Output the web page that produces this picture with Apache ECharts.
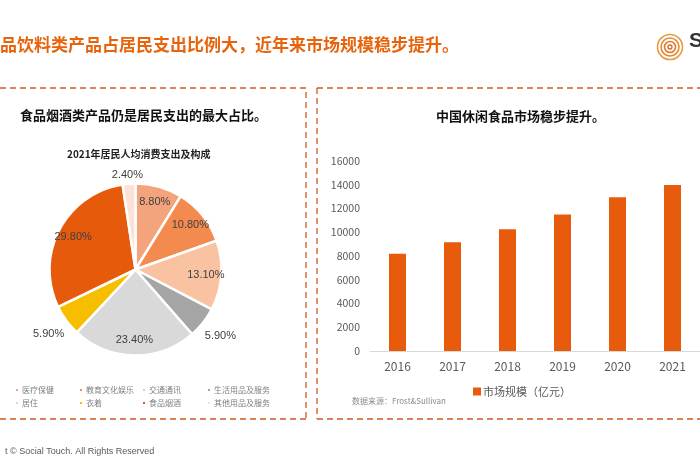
<!DOCTYPE html>
<html>
<head>
<meta charset="utf-8">
<script src="https://cdn.jsdelivr.net/npm/echarts@6/dist/echarts.min.js"></script>
<style>
html,body{margin:0;padding:0;background:#fff;}
#c{width:700px;height:470px;}
</style>
</head>
<body>
<div id="c"></div>
<script>
// ---- data ----
var pieNames = ['医疗保健','教育文化娱乐','交通通讯','生活用品及服务','居住','衣着','食品烟酒','其他用品及服务'];
var pieValues = [8.8, 10.8, 13.1, 5.9, 23.4, 5.9, 29.8, 2.4];
var outerLabelNames = ['生活用品及服务','衣着','其他用品及服务'];
var barYears = ['2016','2017','2018','2019','2020','2021'];
var barValues = [8200, 9150, 10250, 11500, 12950, 13980];
var barSeriesName = '市场规模（亿元）';
var mainTitle = '品饮料类产品占居民支出比例大，近年来市场规模稳步提升。';
var leftTitle = '食品烟酒类产品仍是居民支出的最大占比。';
var pieTitle = '2021年居民人均消费支出及构成';
var rightTitle = '中国休闲食品市场稳步提升。';
var sourceText = '数据来源：Frost&Sullivan';
var footerText = 't © Social Touch. All Rights Reserved';

var pieColors = ['#F4A47C','#F38A4E','#F9C2A0','#A5A5A5','#D9D9D9','#F7BE00','#E65A0C','#FBE2D4'];
var cjk = '"Noto Sans CJK SC","Noto Sans",sans-serif';
var arial = '"Liberation Sans",Arial,sans-serif';

var chart = echarts.init(document.getElementById('c'), null, {renderer:'canvas'});

var pieData = pieNames.map(function(n,i){ return {name:n, value:pieValues[i], itemStyle:{color:pieColors[i]}}; });
var innerLabelData = pieNames.map(function(n,i){
  return {name:n, value:pieValues[i], label:{show: outerLabelNames.indexOf(n) < 0}};
});
var outerLabelData = pieNames.map(function(n,i){
  var d = {name:n, value:pieValues[i], label:{show: outerLabelNames.indexOf(n) >= 0}};
  if (n === '其他用品及服务') d.label.offset = [0, 13];
  return d;
});
function pct(p){ return p.value.toFixed(2) + '%'; }

var legendCols = [[0,4],[1,5],[2,6],[3,7]];
var legendLefts = [9, 73, 136, 201];
var legends = legendCols.map(function(col, k){
  return {
    orient:'vertical', left: legendLefts[k], top: 381,
    itemWidth:4, itemHeight:4, itemGap:5, icon:'rect',
    selectedMode:false,
    textStyle:{fontSize:8, color:'#7F7F7F', fontFamily:cjk, padding:[0,0,0,-2]},
    data: col.map(function(i){ return pieNames[i]; })
  };
});
legends.push({
  left: 468, top: 381, itemWidth:8, itemHeight:8, icon:'rect', selectedMode:false,
  textStyle:{fontSize:11, color:'#595959', fontFamily:cjk, padding:[0,0,0,-3]},
  data:[barSeriesName]
});

function dash(x1,y1,x2,y2){
  return {type:'line', silent:true, shape:{x1:x1,y1:y1,x2:x2,y2:y2},
    style:{stroke:'#CF5A24', lineWidth:1.3, lineDash:[6,4]}};
}

var option = {
  backgroundColor:'#ffffff',
  animation:false,
  title:[
    {text: mainTitle, left:-5, top:31, textStyle:{fontSize:17, fontWeight:'bold', color:'#E8640C', fontFamily:cjk}},
    {text: leftTitle, left:15, top:104, textStyle:{fontSize:13, fontWeight:'bold', color:'#111', fontFamily:cjk}},
    {text: pieTitle, left:62, top:144, textStyle:{fontSize:10, fontWeight:'bold', color:'#222', fontFamily:cjk}},
    {text: rightTitle, left:431, top:105, textStyle:{fontSize:13, fontWeight:'bold', color:'#111', fontFamily:cjk}},
    {text: sourceText, left:347, top:392, textStyle:{fontSize:8, fontWeight:'normal', color:'#8C8C8C', fontFamily:cjk}},
    {text: footerText, left:0, top:442, textStyle:{fontSize:9, fontWeight:'normal', color:'#595959', fontFamily:arial}}
  ],
  legend: legends,
  grid:{left:370, right:-2, top:161, bottom:119, containLabel:false},
  xAxis:{type:'category', data:barYears,
    axisLine:{lineStyle:{color:'#D9D9D9'}}, axisTick:{show:false},
    axisLabel:{color:'#595959', fontSize:12, fontFamily:cjk, margin:9}},
  yAxis:{type:'value', min:0, max:16000, interval:2000,
    axisLine:{show:false}, axisTick:{show:false}, splitLine:{show:false},
    axisLabel:{color:'#595959', fontSize:10.5, fontFamily:cjk, margin:10,
      formatter:function(v){ return String(v); }}},
  series:[
    {type:'pie', name:'pie', center:[135.5,269.5], radius:[0,86], startAngle:90, clockwise:true,
      silent:true, label:{show:false}, labelLine:{show:false},
      itemStyle:{borderColor:'#fff', borderWidth:2.5},
      data: pieData},
    {type:'pie', name:'pieLabelsIn', center:[135.5,269.5], radius:[49,86], startAngle:90, clockwise:true,
      silent:true, itemStyle:{color:'rgba(0,0,0,0)'}, labelLine:{show:false},
      label:{position:'inside', formatter:pct, fontSize:11, color:'#404040', fontFamily:arial},
      data: innerLabelData},
    {type:'pie', name:'pieLabelsOut', center:[135.5,269.5], radius:[86,124], startAngle:90, clockwise:true,
      silent:true, itemStyle:{color:'rgba(0,0,0,0)'}, labelLine:{show:false},
      label:{position:'inside', formatter:pct, fontSize:11, color:'#404040', fontFamily:arial},
      data: outerLabelData},
    {type:'bar', name: barSeriesName, data: barValues, barWidth:17,
      itemStyle:{color:'#E85A0C'}}
  ],
  graphic:[
    dash(-10,88,306,88), dash(306,92,306,419), dash(-10,419,306,419),
    dash(317,88,710,88), dash(317,88,317,419), dash(317,419,710,419),
    {type:'group', left:655, top:32, silent:true, children:[
      {type:'circle', shape:{cx:13,cy:13,r:12.5}, style:{fill:'none', stroke:'#E99A45', lineWidth:1.6}},
      {type:'circle', shape:{cx:13,cy:13,r:9}, style:{fill:'none', stroke:'#E58A35', lineWidth:1.6}},
      {type:'circle', shape:{cx:13,cy:13,r:5.5}, style:{fill:'none', stroke:'#E07A2A', lineWidth:1.6}},
      {type:'circle', shape:{cx:13,cy:13,r:2}, style:{fill:'none', stroke:'#D96A20', lineWidth:1.4}}
    ]},
    {type:'text', left:689, top:31, silent:true, style:{text:'S', fontSize:21, fontWeight:'bold', fill:'#333', fontFamily:arial}}
  ]
};
chart.setOption(option);
</script>
</body>
</html>
